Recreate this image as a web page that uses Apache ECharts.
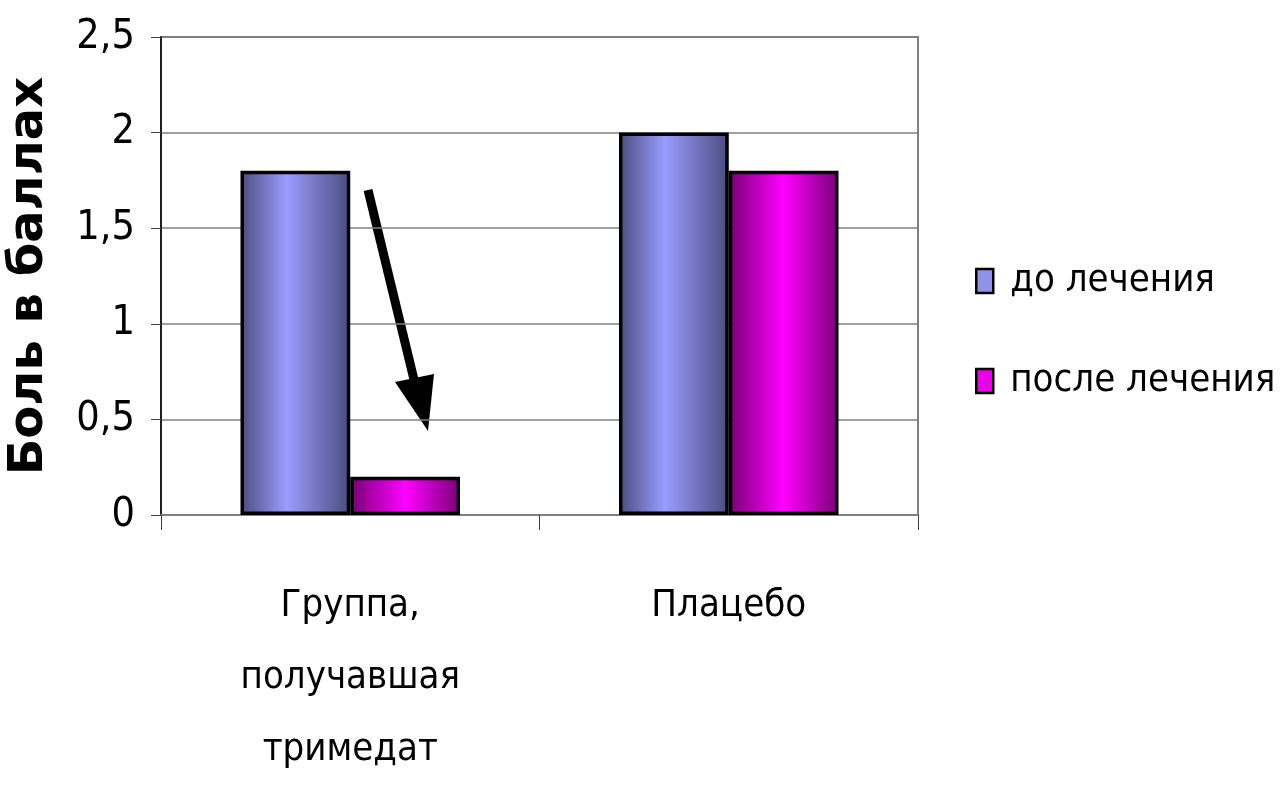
<!DOCTYPE html>
<html><head><meta charset="utf-8">
<script src="https://cdn.jsdelivr.net/npm/echarts@6/dist/echarts.min.js"></script>
<style>html,body{margin:0;padding:0;background:#fff}#c{width:1281px;height:785px}</style>
</head><body><div id="c"></div>
<script>
const categories = ['Группа,\nполучавшая\nтримедат', 'Плацебо'];
const seriesNames = ['до лечения', 'после лечения'];
const beforeValues = [1.8, 2.0];
const afterValues = [0.2, 1.8];
const yTicks = [0, 0.5, 1, 1.5, 2, 2.5];

const narrow = '"DejaVu Sans Condensed", "Liberation Sans Narrow", sans-serif';
function grad(edge, mid, peak) {
  return new echarts.graphic.LinearGradient(0, 0, 1, 0, [
    {offset: 0, color: edge}, {offset: peak, color: mid}, {offset: 1, color: edge}
  ]);
}
const chart = echarts.init(document.getElementById('c'));
chart.setOption({
  animation: false,
  backgroundColor: '#fff',
  grid: {left: 161, right: 363, top: 37, bottom: 270, show: true, borderColor: '#808080', borderWidth: 2,
         backgroundColor: 'transparent', containLabel: false, outerBoundsMode: 'none'},
  legend: {
    orient: 'vertical', left: 970, top: 257, itemGap: 62,
    itemWidth: 17, itemHeight: 24, icon: 'rect',
    textStyle: {fontFamily: narrow, fontSize: 38, color: '#000', padding: [0, 0, 0, 12]},
    data: [
      {name: seriesNames[0], itemStyle: {color: '#8f92e8', borderColor: '#000', borderWidth: 2.5}},
      {name: seriesNames[1], itemStyle: {color: '#e800e8', borderColor: '#000', borderWidth: 2.5}}
    ]
  },
  xAxis: {
    type: 'category', data: categories,
    axisLine: {lineStyle: {color: '#808080', width: 2}},
    axisTick: {show: true, length: 15, lineStyle: {color: '#404040', width: 1}},
    axisLabel: {fontFamily: narrow, fontSize: 38, color: '#000', margin: 55, lineHeight: 72}
  },
  yAxis: {
    type: 'value', min: 0, max: 2.5, interval: 0.5,
    name: 'Боль в баллах', nameLocation: 'middle', nameGap: 107, nameRotate: 90,
    nameTextStyle: {fontFamily: '"DejaVu Sans", Verdana, sans-serif', fontWeight: 'bold', fontSize: 48, color: '#000'},
    axisLine: {show: true, lineStyle: {color: '#202020', width: 2}},
    axisTick: {show: true, length: 10, lineStyle: {color: '#404040'}},
    splitLine: {lineStyle: {color: '#808080', width: 1.5}},
    axisLabel: {fontFamily: narrow, fontSize: 41, color: '#000', margin: 26,
      formatter: v => String(v).replace('.', ',')}
  },
  series: [
    {name: seriesNames[0], type: 'bar', data: beforeValues, barGap: '0%', barCategoryGap: '42%',
     itemStyle: {color: grad('#4a4d7e', '#9a9cff', 0.42), borderColor: '#000', borderWidth: 3.5}},
    {name: seriesNames[1], type: 'bar', data: afterValues,
     itemStyle: {color: grad('#770075', '#ff00ff', 0.5), borderColor: '#000', borderWidth: 3.5}}
  ],
  graphic: [
    {type: 'line', shape: {x1: 368, y1: 190, x2: 417, y2: 392}, style: {stroke: '#000', lineWidth: 9}},
    {type: 'polygon', shape: {points: [[395, 382], [434, 374], [428, 431]]}, style: {fill: '#000'}}
  ]
});
</script></body></html>
